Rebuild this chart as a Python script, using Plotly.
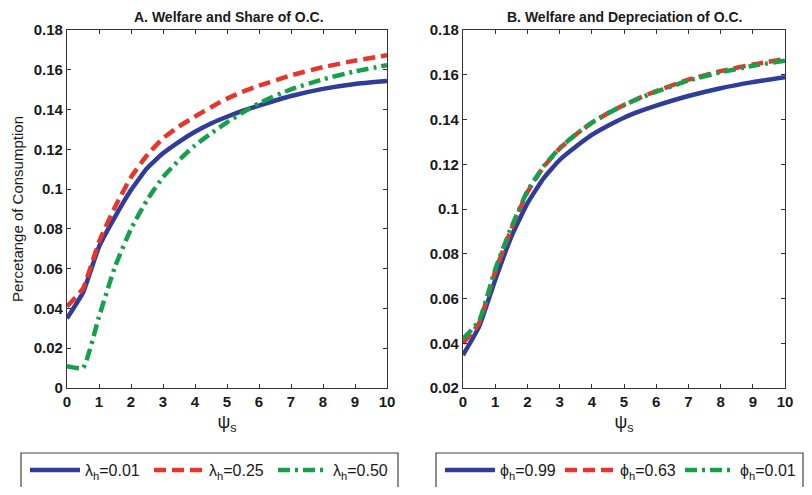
import plotly.graph_objects as go
from plotly.subplots import make_subplots

psi = [0, 0.5, 1, 1.5, 2, 2.5, 3, 3.5, 4, 4.5, 5, 5.5, 6, 7, 8, 9, 10]

# Panel A: welfare and share of O.C. (lambda_h)
lam_001 = [0.035, 0.048, 0.071, 0.086, 0.0995, 0.1105, 0.118, 0.1238, 0.1288, 0.133, 0.1364, 0.1394, 0.142, 0.1468, 0.1504, 0.1529, 0.1544]
lam_025 = [0.041, 0.050, 0.0735, 0.091, 0.106, 0.117, 0.1256, 0.1315, 0.1365, 0.1412, 0.1455, 0.149, 0.152, 0.1572, 0.1613, 0.1646, 0.1673]
lam_050 = [0.011, 0.010, 0.0358, 0.061, 0.080, 0.0945, 0.106, 0.1146, 0.122, 0.128, 0.1336, 0.1386, 0.1432, 0.1502, 0.1552, 0.1592, 0.1623]

# Panel B: welfare and depreciation of O.C. (phi_h)
phi_099 = [0.0347, 0.0474, 0.0683, 0.0876, 0.1025, 0.1137, 0.1219, 0.1278, 0.1331, 0.1372, 0.1408, 0.1437, 0.1462, 0.1505, 0.154, 0.1567, 0.1589]
phi_063 = [0.040, 0.0490, 0.0720, 0.0910, 0.1075, 0.1187, 0.1270, 0.1332, 0.1385, 0.1428, 0.1465, 0.1498, 0.1527, 0.1578, 0.1616, 0.1646, 0.1670]
phi_001 = [0.0420, 0.0500, 0.0730, 0.0918, 0.1080, 0.1190, 0.1272, 0.1333, 0.1386, 0.1428, 0.1464, 0.1496, 0.1524, 0.1574, 0.1611, 0.1640, 0.1663]

names_a = ["λ<sub>h</sub>=0.01", "λ<sub>h</sub>=0.25", "λ<sub>h</sub>=0.50"]
names_b = ["ϕ<sub>h</sub>=0.99", "ϕ<sub>h</sub>=0.63", "ϕ<sub>h</sub>=0.01"]
xticks = list(range(0, 11))

BLUE = "#2f3c9a"
RED = "#e8352b"
GREEN = "#17a04a"
styles = [
    dict(color=BLUE, width=4.5, dash="solid", shape="spline", smoothing=0.4),
    dict(color=RED, width=4.5, dash="12px,6px", shape="spline", smoothing=0.4),
    dict(color=GREEN, width=4.5, dash="12px,5px,3px,5px", shape="spline", smoothing=0.4),
]

fig = make_subplots(rows=1, cols=2)

for ys, nm, st in zip([lam_001, lam_025, lam_050], names_a, styles):
    fig.add_trace(go.Scatter(x=psi, y=ys, name=nm, mode="lines", line=st,
                             legend="legend"), row=1, col=1)
for ys, nm, st in zip([phi_099, phi_063, phi_001], names_b, styles):
    fig.add_trace(go.Scatter(x=psi, y=ys, name=nm, mode="lines", line=st,
                             legend="legend2"), row=1, col=2)

# page has an 8px body margin: figure is sized to fit inside the 812x495 window
W, H = 804, 479
OFF = 8


def px(x):
    return (x - OFF) / W


def py(y):
    return 1 - (y - OFF) / H


tickfont = dict(family="Liberation Sans, Arial", size=15, color="#1a1a1a", weight="bold")
axis_common = dict(showline=True, linecolor="#333", linewidth=1.2, mirror="ticks",
                   ticks="inside", ticklen=4, tickcolor="#333", showgrid=False,
                   zeroline=False, tickfont=tickfont, automargin=False)

fig.update_xaxes(axis_common)
fig.update_yaxes(axis_common)

legend_common = dict(orientation="h", y=py(453), yanchor="top",
                     borderwidth=0, bgcolor="rgba(0,0,0,0)",
                     font=dict(size=16, family="Liberation Sans, Arial", color="#1a1a1a"),
                     itemwidth=50)

box_line = dict(color="#444", width=1.2)

fig.update_layout(
    width=W, height=H,
    margin=dict(l=0, r=0, t=0, b=0, autoexpand=False),
    paper_bgcolor="white", plot_bgcolor="white",
    font=dict(family="Liberation Sans, Arial", color="#1a1a1a"),
    xaxis=dict(domain=[px(67), px(387)], range=[0, 10], tickvals=xticks,
               title=dict(text="ψ<sub>s</sub>", font=dict(size=18), standoff=6)),
    xaxis2=dict(domain=[px(463), px(785)], range=[0, 10], tickvals=xticks,
                title=dict(text="ψ<sub>s</sub>", font=dict(size=18), standoff=6)),
    yaxis=dict(domain=[py(388), py(30)], range=[0, 0.18], dtick=0.02, tickformat="~g",
               title=dict(text="Percetange of Consumption", font=dict(size=15), standoff=6)),
    yaxis2=dict(domain=[py(388), py(30)], range=[0.02, 0.18], dtick=0.02, tickformat="~g"),
    legend=dict(legend_common, x=px(25), xanchor="left", entrywidth=59),
    legend2=dict(legend_common, x=px(440), xanchor="left", entrywidth=55),
    shapes=[
        dict(type="rect", xref="paper", yref="paper", x0=px(21), x1=px(398),
             y0=py(500), y1=py(453), line=box_line, fillcolor="rgba(0,0,0,0)", layer="below"),
        dict(type="rect", xref="paper", yref="paper", x0=px(436), x1=px(803),
             y0=py(500), y1=py(453), line=box_line, fillcolor="rgba(0,0,0,0)", layer="below"),
    ],
    annotations=[
        dict(text="<b>A. Welfare and Share of O.C.</b>", x=px(229), y=1,
             xref="paper", yref="paper", showarrow=False, font=dict(size=14),
             xanchor="center", yanchor="top", borderpad=0),
        dict(text="<b>B. Welfare and Depreciation of O.C.</b>", x=px(624), y=1,
             xref="paper", yref="paper", showarrow=False, font=dict(size=14),
             xanchor="center", yanchor="top", borderpad=0),
    ],
)

fig.write_html("out.html")
